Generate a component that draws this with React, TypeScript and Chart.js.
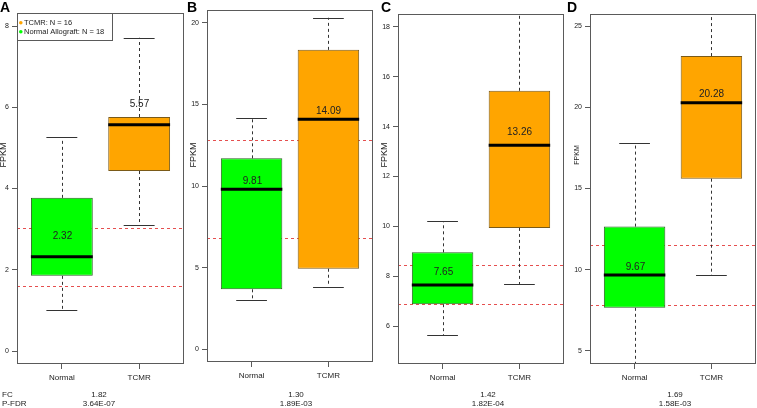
import React, { useEffect, useRef } from "react";
import { Chart, registerables } from "chart.js";

Chart.register(...registerables);

const FONT = "'Liberation Sans', Arial, Helvetica, sans-serif";
Chart.defaults.font.family = FONT;

// ---------- DATA ----------
const categories = ["Normal", "TCMR"];
const panelLetters = ["A", "B", "C", "D"];

// [lower whisker, Q1, median, Q3, upper whisker]
const normalA = [1.01, 1.85, 2.32, 3.77, 5.27];
const tcmrA = [3.1, 4.43, 5.57, 5.76, 7.71];
const normalB = [3.02, 3.68, 9.81, 11.7, 14.15];
const tcmrB = [3.84, 4.94, 14.09, 18.34, 20.3];
const normalC = [5.64, 6.88, 7.65, 8.96, 10.21];
const tcmrC = [7.68, 9.94, 13.26, 15.44, 19.5];
const normalD = [3.5, 7.65, 9.67, 12.65, 17.78];
const tcmrD = [9.67, 15.6, 20.28, 23.15, 27.0];

// red dashed reference lines
const thresholdsA = [3.03, 1.6];
const thresholdsB = [12.82, 6.82];
const thresholdsC = [8.45, 6.89];
const thresholdsD = [11.52, 7.84];

// y ticks
const yTicksA = [0, 2, 4, 6, 8];
const yTicksB = [0, 5, 10, 15, 20];
const yTicksC = [6, 8, 10, 12, 14, 16, 18];
const yTicksD = [5, 10, 15, 20, 25];

// y axis ranges
const yRangeA = [-0.32, 8.32];
const yRangeB = [-0.77, 20.78];
const yRangeC = [4.48, 18.52];
const yRangeD = [4.19, 25.74];

const fcValues = ["1.82", "1.30", "1.42", "1.69"];
const pfdrValues = ["3.64E-07", "1.89E-03", "1.82E-04", "1.58E-03"];
const legendLabels = ["TCMR: N = 16", "Normal Allograft: N = 18"];
const yTitle = "FPKM";

// ---------- STYLE / LAYOUT ----------
const GREEN = "#00ff00";
const GREEN_BORDER = "#2a6020";
const ORANGE = "#ffa500";
const ORANGE_BORDER = "#7a5a18";
const RED = "rgba(226,60,60,0.9)";
const FRAME = "#5a5a5a";
const TEXT = "#222";

type Layout = {
  plotLeft: number;
  plotRight: number;
  plotTop: number;
  plotBottom: number;
  titleSize: number;
  fcX: number;
};

const layouts: Layout[] = [
  { plotLeft: 17, plotRight: 184, plotTop: 13, plotBottom: 364, titleSize: 9, fcX: 99 },
  { plotLeft: 207, plotRight: 373, plotTop: 10, plotBottom: 362, titleSize: 9, fcX: 296 },
  { plotLeft: 398, plotRight: 564, plotTop: 14, plotBottom: 364, titleSize: 9, fcX: 488 },
  { plotLeft: 590, plotRight: 756, plotTop: 14, plotBottom: 364, titleSize: 7, fcX: 675 },
];
const letterX = [0, 187, 381, 567];

const panels = [
  { normal: normalA, tcmr: tcmrA, thresholds: thresholdsA, yTicks: yTicksA, yRange: yRangeA, legend: true },
  { normal: normalB, tcmr: tcmrB, thresholds: thresholdsB, yTicks: yTicksB, yRange: yRangeB, legend: false },
  { normal: normalC, tcmr: tcmrC, thresholds: thresholdsC, yTicks: yTicksC, yRange: yRangeC, legend: false },
  { normal: normalD, tcmr: tcmrD, thresholds: thresholdsD, yTicks: yTicksD, yRange: yRangeD, legend: false },
];

const Y_AXIS_W = 20;
const H = 408;

function BoxPanel({ idx }: { idx: number }) {
  const ref = useRef<HTMLCanvasElement>(null);
  const p = panels[idx];
  const L = layouts[idx];
  const canvasLeft = L.plotLeft - Y_AXIS_W;
  const canvasW = L.plotRight - canvasLeft;

  useEffect(() => {
    const canvas = ref.current!;
    const stats = [p.normal, p.tcmr];

    const extras = {
      id: "boxExtras",
      beforeDatasetsDraw(chart: any) {
        const { ctx, chartArea: a, scales } = chart;
        const y = scales.y;
        ctx.save();
        ctx.beginPath();
        ctx.rect(a.left, a.top, a.right - a.left, a.bottom - a.top);
        ctx.clip();
        ctx.strokeStyle = RED;
        ctx.lineWidth = 1;
        ctx.setLineDash([3, 3]);
        p.thresholds.forEach((v) => {
          const py = Math.round(y.getPixelForValue(v)) + 0.5;
          ctx.beginPath();
          ctx.moveTo(a.left, py);
          ctx.lineTo(a.right, py);
          ctx.stroke();
        });
        ctx.restore();
      },
      afterDatasetsDraw(chart: any) {
        const { ctx, chartArea: a, scales } = chart;
        const x = scales.x;
        const y = scales.y;
        ctx.save();
        ctx.beginPath();
        ctx.rect(a.left, a.top, a.right - a.left, a.bottom - a.top);
        ctx.clip();
        stats.forEach((s, i) => {
          const xv = i + 1;
          const [lo, q1, med, q3, hi] = s;
          const cx = Math.round(x.getPixelForValue(xv)) + 0.5;
          ctx.strokeStyle = "#333";
          ctx.lineWidth = 1;
          ctx.setLineDash([3, 3]);
          ctx.beginPath();
          ctx.moveTo(cx, y.getPixelForValue(q3));
          ctx.lineTo(cx, y.getPixelForValue(hi));
          ctx.stroke();
          ctx.beginPath();
          ctx.moveTo(cx, y.getPixelForValue(q1));
          ctx.lineTo(cx, y.getPixelForValue(lo));
          ctx.stroke();
          ctx.setLineDash([]);
          const cl = x.getPixelForValue(xv - 0.2);
          const cr = x.getPixelForValue(xv + 0.2);
          [lo, hi].forEach((v) => {
            const py = Math.round(y.getPixelForValue(v)) + 0.5;
            ctx.beginPath();
            ctx.moveTo(cl, py);
            ctx.lineTo(cr, py);
            ctx.stroke();
          });
          // median
          ctx.strokeStyle = "#000";
          ctx.lineWidth = 3;
          const my = y.getPixelForValue(med);
          ctx.beginPath();
          ctx.moveTo(x.getPixelForValue(xv - 0.4), my);
          ctx.lineTo(x.getPixelForValue(xv + 0.4), my);
          ctx.stroke();
          // median label
          ctx.fillStyle = TEXT;
          ctx.font = `10px ${FONT}`;
          ctx.textAlign = "center";
          ctx.textBaseline = "middle";
          ctx.fillText(med.toFixed(2), cx, y.getPixelForValue(med + 0.5));
        });
        ctx.restore();

        // frame
        ctx.save();
        ctx.strokeStyle = FRAME;
        ctx.lineWidth = 1;
        ctx.strokeRect(a.left + 0.5, a.top + 0.5, a.right - a.left - 1, a.bottom - a.top - 1);
        ctx.restore();

        // y title
        ctx.save();
        ctx.fillStyle = TEXT;
        ctx.font = `${L.titleSize}px ${FONT}`;
        ctx.textAlign = "center";
        ctx.textBaseline = "middle";
        ctx.translate(a.left - 13, 155);
        ctx.rotate(-Math.PI / 2);
        ctx.fillText(yTitle, 0, 0);
        ctx.restore();

        // legend
        if (p.legend) {
          ctx.save();
          const lx = a.left + 0.5;
          const ly = a.top + 0.5;
          ctx.fillStyle = "#fff";
          ctx.fillRect(lx, ly, 95, 27);
          ctx.strokeStyle = FRAME;
          ctx.lineWidth = 1;
          ctx.strokeRect(lx, ly, 95, 27);
          const dotColors = [ORANGE, GREEN];
          legendLabels.forEach((t, k) => {
            const ty = a.top + 9.7 + k * 9;
            ctx.fillStyle = dotColors[k];
            ctx.beginPath();
            ctx.arc(a.left + 3.8, ty, 1.8, 0, Math.PI * 2);
            ctx.fill();
            ctx.fillStyle = TEXT;
            ctx.font = `7.5px ${FONT}`;
            ctx.textAlign = "left";
            ctx.textBaseline = "middle";
            ctx.fillText(t, a.left + 7, ty);
          });
          ctx.restore();
        }
      },
    };

    const chart = new Chart(canvas, {
      type: "bar",
      data: {
        datasets: [
          {
            data: stats.map((s, i) => ({ x: i + 1, y: [s[1], s[3]] })) as any,
            backgroundColor: [GREEN, ORANGE],
            borderColor: [GREEN_BORDER, ORANGE_BORDER],
            borderWidth: 1,
            borderSkipped: false,
            categoryPercentage: 0.8,
            barPercentage: 1,
          },
        ],
      },
      options: {
        animation: false,
        responsive: false,
        events: [],
        layout: { padding: { top: L.plotTop, left: 0, right: 0, bottom: 0 } },
        plugins: { legend: { display: false }, tooltip: { enabled: false } },
        scales: {
          x: {
            type: "linear",
            min: 0.42,
            max: 2.58,
            offset: false,
            grid: { offset: false, drawOnChartArea: false, drawTicks: true, tickLength: 5, color: FRAME },
            border: { display: false },
            ticks: {
              padding: 4,
              color: TEXT,
              font: { size: 8 },
              maxRotation: 0,
              autoSkip: false,
              callback: (v: any) => categories[Number(v) - 1] ?? "",
            },
            afterBuildTicks: (s: any) => {
              s.ticks = categories.map((_, i) => ({ value: i + 1 }));
            },
            afterFit: (s: any) => {
              s.height = H - L.plotBottom;
            },
          },
          y: {
            type: "linear",
            min: p.yRange[0],
            max: p.yRange[1],
            grid: { drawOnChartArea: false, drawTicks: true, tickLength: 5, color: FRAME },
            border: { display: false },
            ticks: { padding: 3, color: TEXT, font: { size: 7 } },
            afterBuildTicks: (s: any) => {
              s.ticks = p.yTicks.map((v) => ({ value: v }));
            },
            afterFit: (s: any) => {
              s.width = Y_AXIS_W;
            },
          },
        } as any,
      },
      plugins: [extras],
    });
    return () => chart.destroy();
  }, [idx]);

  return (
    <canvas
      ref={ref}
      width={canvasW}
      height={H}
      style={{ position: "absolute", left: canvasLeft, top: 0, width: canvasW, height: H }}
    />
  );
}

export default function App() {
  const txt: React.CSSProperties = {
    position: "absolute",
    fontFamily: FONT,
    color: TEXT,
    fontSize: 8,
    lineHeight: "10px",
    whiteSpace: "nowrap",
  };
  return (
    <div
      style={{
        position: "fixed",
        left: 0,
        top: 0,
        width: 757,
        height: 408,
        overflow: "hidden",
        background: "#fff",
      }}
    >
      {panels.map((_, i) => (
        <BoxPanel key={i} idx={i} />
      ))}
      {panelLetters.map((l, i) => (
        <div
          key={l}
          style={{
            ...txt,
            left: letterX[i],
            top: 0,
            fontSize: 14,
            lineHeight: "14px",
            fontWeight: "bold",
            color: "#000",
          }}
        >
          {l}
        </div>
      ))}
      <div style={{ ...txt, left: 2, top: 389.5 }}>FC</div>
      <div style={{ ...txt, left: 2, top: 399 }}>P-FDR</div>
      {fcValues.map((v, i) => (
        <div key={"fc" + i} style={{ ...txt, left: layouts[i].fcX - 40, width: 80, textAlign: "center", top: 389.5 }}>
          {v}
        </div>
      ))}
      {pfdrValues.map((v, i) => (
        <div key={"pf" + i} style={{ ...txt, left: layouts[i].fcX - 40, width: 80, textAlign: "center", top: 399 }}>
          {v}
        </div>
      ))}
    </div>
  );
}
